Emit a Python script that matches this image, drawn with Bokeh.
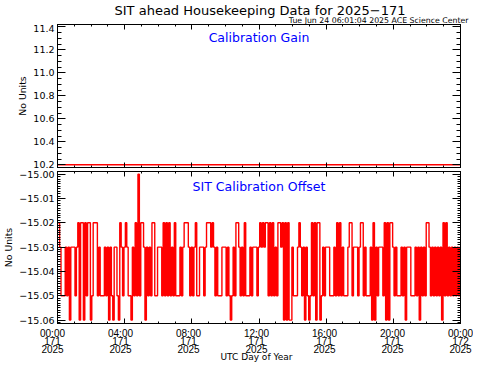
import numpy as np
from bokeh.plotting import figure
from bokeh.layouts import column
from bokeh.models import Range1d, LinearAxis, FixedTicker, Label
from bokeh.core.properties import value
from bokeh.embed import file_html
from bokeh.resources import INLINE

FONT = "DejaVu Sans"
XFONT = "Liberation Sans"
RED = "#ff0000"
BLUE = "#0000ff"

# ---------------- texts ----------------
title_text = "SIT ahead Housekeeping Data for 2025\u2212171"
stamp_text = "Tue Jun 24 06:01:04 2025 ACE Science Center"
gain_label = "Calibration Gain"
offset_label = "SIT Calibration Offset"
y_label = "No Units"
x_label = "UTC Day of Year"

# ---------------- ticks ----------------
x_tick_hours = [0, 4, 8, 12, 16, 20, 24]
x_tick_times = ["00:00", "04:00", "08:00", "12:00", "16:00", "20:00", "00:00"]
x_tick_doys = ["171", "171", "171", "171", "171", "171", "172"]
x_tick_years = ["2025", "2025", "2025", "2025", "2025", "2025", "2025"]
x_minor_hours = [0, 1, 2, 3, 4, 5, 6, 7, 8, 9, 10, 11, 12, 13, 14, 15, 16, 17, 18,
                 19, 20, 21, 22, 23, 24]
gain_ticks = [10.2, 10.4, 10.6, 10.8, 11.0, 11.2, 11.4]
gain_tick_labels = ["10.2", "10.4", "10.6", "10.8", "11.0", "11.2", "11.4"]
offset_ticks = [-15.00, -15.01, -15.02, -15.03, -15.04, -15.05, -15.06]
offset_tick_labels = ["\u221215.00", "\u221215.01", "\u221215.02", "\u221215.03",
                      "\u221215.04", "\u221215.05", "\u221215.06"]

# ---------------- data ----------------
gain_hours = [0.0, 4.0, 8.0, 12.0, 16.0, 20.0, 24.0]
gain_values = [10.2, 10.2, 10.2, 10.2, 10.2, 10.2, 10.2]

sample_minutes = 5
offset_values = [
    -15.02, -15.02, -15.03, -15.05, -15.05, -15.05, -15.03, -15.05, -15.03, -15.06, -15.03, -15.03, -15.03, -15.05, -15.03, -15.02, -15.06, -15.02, -15.02, -15.06, -15.02, -15.05, -15.02, -15.02,
    -15.06, -15.05, -15.02, -15.02, -15.02, -15.05, -15.03, -15.05, -15.05, -15.05, -15.03, -15.05, -15.03, -15.06, -15.03, -15.05, -15.06, -15.03, -15.03, -15.05, -15.06, -15.02, -15.03, -15.05,
    -15.03, -15.02, -15.03, -15.05, -15.05, -15.06, -15.03, -15.05, -15.02, -15.05, -15.00, -15.05, -15.02, -15.02, -15.03, -15.06, -15.03, -15.05, -15.03, -15.05, -15.02, -15.02, -15.05, -15.05,
    -15.03, -15.03, -15.03, -15.05, -15.02, -15.05, -15.02, -15.05, -15.02, -15.05, -15.03, -15.05, -15.02, -15.05, -15.05, -15.05, -15.03, -15.05, -15.03, -15.02, -15.02, -15.02, -15.03, -15.05,
    -15.03, -15.05, -15.03, -15.02, -15.05, -15.05, -15.03, -15.03, -15.03, -15.05, -15.03, -15.02, -15.02, -15.02, -15.03, -15.02, -15.03, -15.05, -15.03, -15.05, -15.05, -15.05, -15.03, -15.03,
    -15.03, -15.05, -15.03, -15.05, -15.06, -15.05, -15.03, -15.05, -15.02, -15.02, -15.03, -15.05, -15.03, -15.05, -15.02, -15.05, -15.05, -15.05, -15.03, -15.05, -15.03, -15.03, -15.03, -15.05,
    -15.03, -15.02, -15.03, -15.02, -15.03, -15.02, -15.02, -15.05, -15.02, -15.05, -15.02, -15.05, -15.03, -15.05, -15.02, -15.02, -15.03, -15.02, -15.06, -15.02, -15.06, -15.02, -15.06, -15.06,
    -15.03, -15.05, -15.05, -15.05, -15.03, -15.02, -15.03, -15.05, -15.03, -15.06, -15.03, -15.05, -15.06, -15.05, -15.02, -15.05, -15.02, -15.06, -15.02, -15.02, -15.06, -15.05, -15.03, -15.05,
    -15.03, -15.03, -15.03, -15.05, -15.05, -15.05, -15.03, -15.05, -15.02, -15.05, -15.02, -15.05, -15.03, -15.05, -15.05, -15.05, -15.03, -15.02, -15.02, -15.05, -15.03, -15.03, -15.03, -15.05,
    -15.03, -15.02, -15.02, -15.05, -15.03, -15.05, -15.05, -15.05, -15.03, -15.06, -15.02, -15.06, -15.03, -15.05, -15.03, -15.03, -15.03, -15.05, -15.02, -15.06, -15.02, -15.06, -15.02, -15.02,
    -15.03, -15.05, -15.03, -15.05, -15.05, -15.05, -15.03, -15.05, -15.03, -15.06, -15.03, -15.03, -15.03, -15.05, -15.05, -15.05, -15.03, -15.05, -15.03, -15.06, -15.03, -15.05, -15.03, -15.05,
    -15.02, -15.02, -15.03, -15.05, -15.03, -15.05, -15.03, -15.05, -15.03, -15.05, -15.03, -15.06, -15.02, -15.05, -15.02, -15.05, -15.03, -15.05, -15.03, -15.05, -15.03, -15.05, -15.03, -15.05,
    -15.03,
]
offset_hours = [i * sample_minutes / 60.0 for i in range(len(offset_values))]

# ---------------- layout constants ----------------
W = 473
H0 = 24      # header (title + stamp)
H1 = 145     # upper panel
H2 = 157     # lower panel
H3 = 36      # footer (time tick labels + x title)
BL = 52
BR = 13
FRAME_W = W - BL - BR


def labeled_axis(ticker, overrides, major_in, minor_in, font, size, standoff):
    ax = LinearAxis(ticker=ticker)
    ax.axis_line_color = "black"
    ax.major_tick_line_color = "black"
    ax.minor_tick_line_color = "black"
    ax.major_tick_in = major_in
    ax.major_tick_out = 0
    ax.minor_tick_in = minor_in
    ax.minor_tick_out = 0
    ax.major_label_overrides = overrides
    ax.major_label_text_font = font
    ax.major_label_text_font_size = size
    ax.major_label_text_color = "black"
    ax.major_label_standoff = standoff
    ax.axis_label_text_font = FONT
    ax.axis_label_text_font_size = "9.3px"
    ax.axis_label_text_font_style = "normal"
    ax.axis_label_text_color = "black"
    return ax


def tick_only_axes(p, side, major, minor, major_len, minor_len):
    # two label-free axes stacked on the frame edge: short and long ticks
    for ticks, ln in ((minor, minor_len), (major, major_len)):
        ax = LinearAxis(ticker=FixedTicker(ticks=[], minor_ticks=ticks))
        ax.axis_line_color = "black"
        ax.major_tick_in = 0
        ax.major_tick_out = 0
        ax.minor_tick_line_color = "black"
        ax.minor_tick_in = ln
        ax.minor_tick_out = 0
        ax.major_label_standoff = 0
        ax.axis_label_standoff = 0
        p.add_layout(ax, side)


def base_fig(height, y_range, top, bottom):
    p = figure(width=W, height=height, output_backend="svg", toolbar_location=None,
               x_range=Range1d(0, 24), y_range=y_range,
               x_axis_location=None, y_axis_location=None,
               min_border_left=BL, min_border_right=BR,
               min_border_top=top, min_border_bottom=bottom)
    p.grid.visible = False
    p.outline_line_color = "black"
    p.background_fill_color = "white"
    p.border_fill_color = "white"
    return p


def blank_fig(height, x_range, y_range):
    p = figure(width=W, height=height, output_backend="svg", toolbar_location=None,
               x_range=x_range, y_range=y_range,
               x_axis_location=None, y_axis_location=None, min_border=0)
    p.grid.visible = False
    p.outline_line_color = None
    p.background_fill_color = "white"
    p.border_fill_color = "white"
    return p


# ---------------- header ----------------
p0 = blank_fig(H0, Range1d(0, W), Range1d(0, H0))
p0.add_layout(Label(x=259.5, y=13.6, text=title_text, text_align="center",
                    text_baseline="alphabetic", text_font=FONT,
                    text_font_size="13px", text_color="black"))
p0.add_layout(Label(x=468, y=4.3, text=stamp_text, text_align="right",
                    text_baseline="alphabetic", text_font=FONT,
                    text_font_size="7.8px", text_color="black"))

# ---------------- upper panel ----------------
p1 = base_fig(H1, Range1d(10.176, 11.421), 0, 2)
g_minor = [10.15, 10.2, 10.25, 10.3, 10.35, 10.4, 10.45, 10.5, 10.55, 10.6, 10.65,
           10.7, 10.75, 10.8, 10.85, 10.9, 10.95, 11.0, 11.05, 11.1, 11.15, 11.2,
           11.25, 11.3, 11.35, 11.4]
ly1 = labeled_axis(FixedTicker(ticks=gain_ticks, minor_ticks=g_minor),
                   dict(zip(gain_ticks, gain_tick_labels)), 8, 4, FONT, "9.5px", 3)
ly1.axis_label = y_label
ly1.axis_label_standoff = 2
p1.add_layout(ly1, "left")
tick_only_axes(p1, "right", gain_ticks, g_minor, 8, 4)
tick_only_axes(p1, "above", x_tick_hours, x_minor_hours, 5, 2)
tick_only_axes(p1, "below", x_tick_hours, x_minor_hours, 5, 2)

p1.line(gain_hours, gain_values, line_color=RED, line_width=1.3)
p1.add_layout(Label(x=12, y=11.308, text=gain_label, text_align="center",
                    text_baseline="alphabetic", text_font=FONT,
                    text_font_size="12.5px", text_color=BLUE))

# ---------------- lower panel ----------------
p2 = base_fig(H2, Range1d(-15.0614, -14.9989), 2, 3)
o_minor = list(np.round(np.arange(-15.062, -14.998, 0.001), 4))
ly2 = labeled_axis(FixedTicker(ticks=offset_ticks, minor_ticks=o_minor),
                   dict(zip(offset_ticks, offset_tick_labels)), 8, 3, FONT, "9.5px", 3)
ly2.axis_label = y_label
ly2.axis_label_standoff = 2
p2.add_layout(ly2, "left")
tick_only_axes(p2, "right", offset_ticks, o_minor, 8, 3)
tick_only_axes(p2, "above", x_tick_hours, x_minor_hours, 5, 2)
tick_only_axes(p2, "below", x_tick_hours, x_minor_hours, 5, 2)

p2.step(offset_hours, offset_values, mode="center", line_color=RED, line_width=1.4)
p2.add_layout(Label(x=12, y=-15.0051, text=offset_label, text_align="center",
                    text_baseline="alphabetic", text_font=FONT,
                    text_font_size="12.5px", text_color=BLUE))

# ---------------- footer: time labels on the same hour scale ----------------
hpp = 24.0 / FRAME_W   # hours per pixel of the panel frames
p3 = blank_fig(H3, Range1d(-BL * hpp, 24 + BR * hpp), Range1d(0, H3))
for row_text, row_y in ((x_tick_times, 29.2), (x_tick_doys, 21.6), (x_tick_years, 14.0)):
    p3.text(x=x_tick_hours, y=row_y, text=row_text, text_align="center",
            text_baseline="alphabetic", text_font=value(XFONT),
            text_font_size="10px", text_color="black")
p3.add_layout(Label(x=12, y=5.2, text=x_label, text_align="center",
                    text_baseline="alphabetic", text_font=FONT,
                    text_font_size="9px", text_color="black"))

panels = column(p1, p2, spacing=0)
layout = column(column(p0), panels, column(p3), spacing=0)

open("out.html", "w").write(file_html(layout, INLINE))
